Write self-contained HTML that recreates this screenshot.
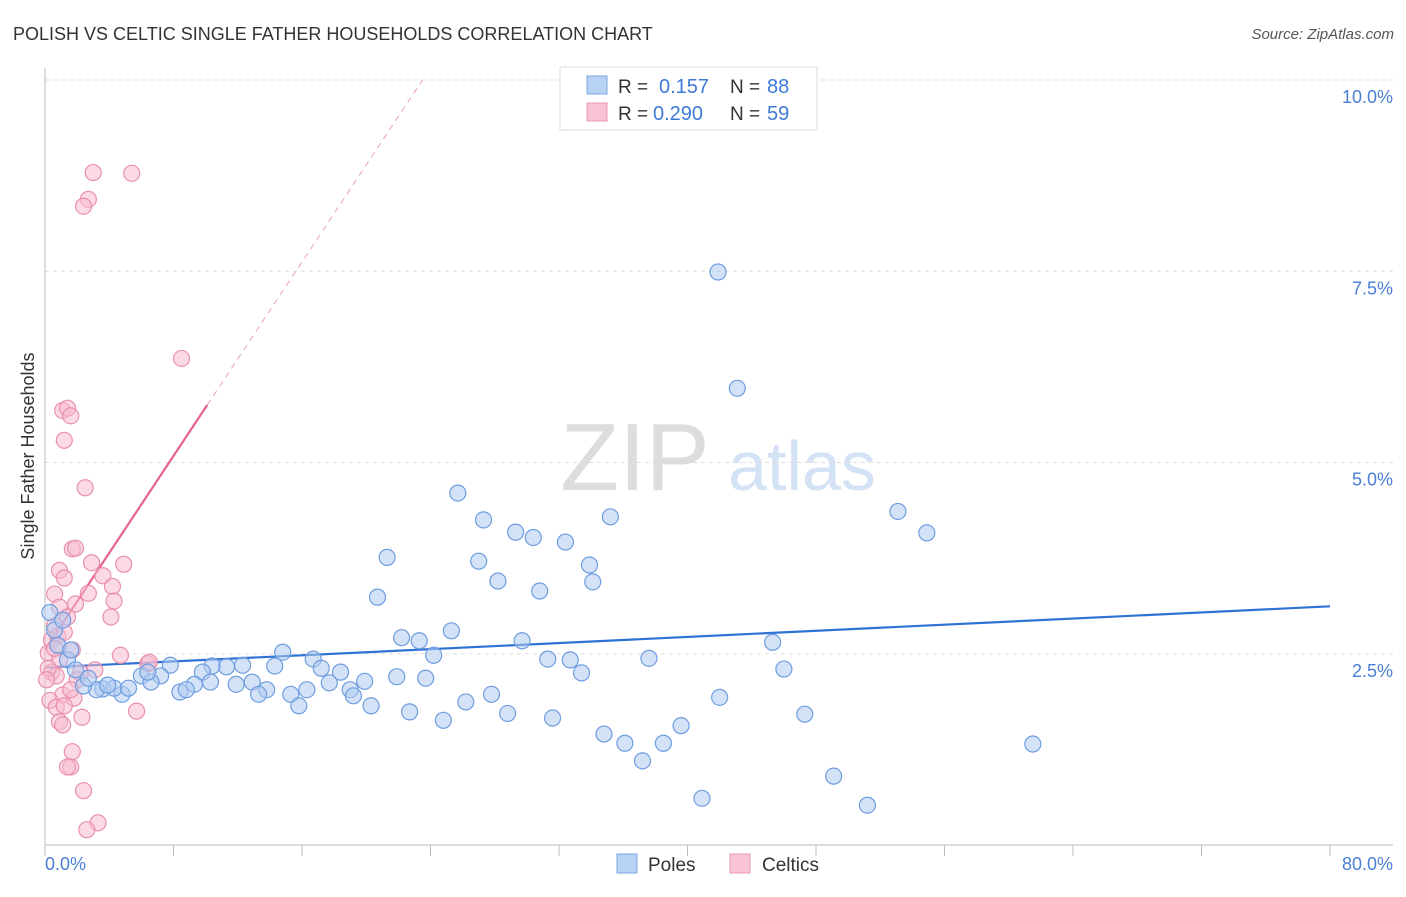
<!DOCTYPE html>
<html><head><meta charset="utf-8"><style>
body{margin:0;background:#fff;font-family:"Liberation Sans",sans-serif;}
svg text{font-family:"Liberation Sans",sans-serif;}
</style></head><body>
<svg id="chart" width="1406" height="892" xmlns="http://www.w3.org/2000/svg">
<text x="13" y="40" font-size="18" fill="#333">POLISH VS CELTIC SINGLE FATHER HOUSEHOLDS CORRELATION CHART</text>
<text x="1394" y="39" font-size="15" fill="#555" text-anchor="end" font-style="italic">Source: ZipAtlas.com</text>
<g>
<text x="635" y="490" font-size="96" fill="#ddd" text-anchor="middle" font-family="Liberation Serif,serif">ZIP</text>
<text x="802" y="490" font-size="70" fill="#d3e2f5" text-anchor="middle">atlas</text>
</g>
<g id="grid"></g>
<g id="axes"></g>
<g id="trends"></g>
<g id="points"></g>
<g>
<rect x="560" y="67" width="257" height="63" fill="#fff" stroke="#ddd"/>
<rect x="587" y="76" width="20" height="18" fill="#b8d2f3" stroke="#7aa6e3"/>
<rect x="587" y="103" width="20" height="18" fill="#f8c4d4" stroke="#ec97b2"/>
<text x="618" y="93" font-size="19" fill="#333">R = </text><text x="659" y="93" font-size="20" fill="#3e7ad6">0.157</text>
<text x="730" y="93" font-size="19" fill="#333">N = </text><text x="767" y="93" font-size="20" fill="#3e7ad6">88</text>
<text x="618" y="120" font-size="19" fill="#333">R = </text><text x="653" y="120" font-size="20" fill="#3e7ad6">0.290</text>
<text x="730" y="120" font-size="19" fill="#333">N = </text><text x="767" y="120" font-size="20" fill="#3e7ad6">59</text>
</g>
<g>
<rect x="617" y="854" width="20" height="19" fill="#b8d2f3" stroke="#7aa6e3"/>
<text x="648" y="871" font-size="19" fill="#333">Poles</text>
<rect x="730" y="854" width="20" height="19" fill="#f8c4d4" stroke="#ec97b2"/>
<text x="762" y="871" font-size="19" fill="#333">Celtics</text>
</g>
</svg>
<script>
const yTicks=[2.5,5,7.5,10];
const yTickLabels=["2.5%","5.0%","7.5%","10.0%"];
const xTicks=[0,8,16,24,32,40,48,56,64,72,80];
const polesX=[41.9,43.1,25.7,27.3,35.2,29.3,30.4,32.4,21.3,27.0,33.9,28.2,34.1,30.8,20.7,53.1,54.9,22.2,23.3,25.3,29.7,45.3,24.2,31.3,32.7,37.6,33.4,46.0,14.8,16.7,17.2,18.4,21.9,23.7,19.9,17.7,19.0,14.3,12.3,11.3,10.4,9.8,7.8,7.2,6.0,6.6,9.3,10.3,11.9,12.9,13.8,13.3,15.3,16.3,19.2,20.3,15.8,22.7,24.8,26.2,27.8,28.8,31.6,42.0,47.3,39.6,34.8,36.1,38.5,37.2,49.1,51.2,40.9,61.5,8.4,8.8,4.8,3.6,3.2,2.4,4.3,5.2,2.7,1.4,0.8,0.6,0.3,1.1,1.6,1.9,3.9,6.4];
const polesY=[7.49,5.97,4.60,4.25,4.29,4.09,4.02,3.96,3.76,3.71,3.66,3.45,3.44,3.32,3.24,4.36,4.08,2.71,2.67,2.80,2.67,2.65,2.48,2.43,2.42,2.44,2.25,2.30,2.52,2.43,2.31,2.26,2.20,2.18,2.14,2.12,2.03,2.34,2.35,2.33,2.34,2.26,2.35,2.21,2.21,2.13,2.10,2.13,2.10,2.13,2.03,1.97,1.97,2.03,1.95,1.82,1.82,1.74,1.63,1.87,1.97,1.72,1.66,1.93,1.71,1.56,1.45,1.33,1.33,1.10,0.90,0.52,0.61,1.32,2.00,2.03,1.97,2.04,2.03,2.08,2.05,2.05,2.18,2.42,2.61,2.81,3.04,2.94,2.55,2.29,2.09,2.26];
const celtX=[3.0,5.4,2.7,2.4,8.5,1.1,1.4,1.6,1.2,2.5,1.7,1.9,2.9,4.9,0.9,1.2,3.6,4.2,2.7,0.6,1.9,0.9,4.3,1.4,4.1,0.6,0.4,0.8,1.2,1.7,0.2,0.9,4.7,6.4,3.1,0.4,0.7,0.2,2.2,2.0,1.1,1.8,0.3,0.7,1.2,5.7,2.3,0.9,1.1,1.7,1.6,1.4,2.4,3.3,2.6,6.5,0.6,1.6,0.1];
const celtY=[8.79,8.78,8.44,8.35,6.36,5.68,5.71,5.61,5.29,4.67,3.87,3.88,3.69,3.67,3.59,3.49,3.52,3.38,3.29,3.28,3.15,3.11,3.19,2.98,2.98,2.87,2.68,2.73,2.78,2.55,2.51,2.42,2.48,2.37,2.29,2.26,2.21,2.31,2.25,2.16,1.96,1.92,1.89,1.80,1.82,1.75,1.67,1.61,1.57,1.22,1.02,1.02,0.71,0.29,0.20,2.39,2.57,2.03,2.16];
const polesTrend=[2.32,3.12];
const celtTrend=[2.55,0.317];
const NS="http://www.w3.org/2000/svg";
const X0=45,X1=1330,Y0=845,Y10=80;
const sx=v=>X0+(v/80)*(X1-X0);
const sy=v=>Y0-(v/10)*(Y0-Y10);
function mk(t,a,p){const e=document.createElementNS(NS,t);for(const k in a)e.setAttribute(k,a[k]);p.appendChild(e);return e;}
const grid=document.getElementById('grid');
yTicks.forEach((v,i)=>{
 const l=mk('line',{x1:X0,x2:1393,y1:sy(v),y2:sy(v),stroke:'#ddd','stroke-dasharray':'4,4'},grid);
 
 
 const t=mk('text',{x:1393,y:sy(v)+23,'font-size':18,fill:'#4a7fd4','text-anchor':'end'},grid);
 t.textContent=yTickLabels[i];
 
 
});
const ax=document.getElementById('axes');
mk('line',{x1:X0,x2:X0,y1:68,y2:Y0,stroke:'#bbb'},ax);
mk('line',{x1:X0,x2:1393,y1:Y0,y2:Y0,stroke:'#bbb'},ax);
xTicks.forEach(v=>{const l=mk('line',{x1:sx(v),x2:sx(v),y1:Y0,y2:Y0+11,stroke:'#bbb'},ax);
 
 });
let t=mk('text',{x:45,y:870,'font-size':18,fill:'#4a7fd4'},ax);t.textContent='0.0%';

t=mk('text',{x:1393,y:870,'font-size':18,fill:'#4a7fd4','text-anchor':'end'},ax);t.textContent='80.0%';

t=mk('text',{x:34,y:456,'font-size':18,fill:'#333','text-anchor':'middle',transform:'rotate(-90 34 456)'},ax);t.textContent='Single Father Households';

const pts=document.getElementById('points');
function dots(xs,ys,fill,stroke,name){xs.forEach((x,i)=>{const c=mk('circle',{cx:sx(x),cy:sy(ys[i]),r:8,fill:fill,'fill-opacity':0.55,stroke:stroke,'stroke-width':1.2},pts);
 
 });}
dots(celtX,celtY,'#f7bcd0','#e990ad','celtics-point');
dots(polesX,polesY,'#aecbf1','#6e9de0','poles-point');
const tr=document.getElementById('trends');
let l=mk('line',{x1:sx(0),y1:sy(polesTrend[0]),x2:sx(80),y2:sy(polesTrend[1]),stroke:'#2f72d6','stroke-width':2.2},tr);

const cx1=10.1,cx2=(10-celtTrend[0])/celtTrend[1];
l=mk('line',{x1:sx(0),y1:sy(celtTrend[0]),x2:sx(cx1),y2:sy(celtTrend[0]+celtTrend[1]*cx1),stroke:'#e5628f','stroke-width':2.2},tr);

l=mk('line',{x1:sx(cx1),y1:sy(celtTrend[0]+celtTrend[1]*cx1),x2:sx(cx2),y2:sy(10),stroke:'#e9a0b8','stroke-width':1,'stroke-dasharray':'6,5'},tr);

</script>
</body></html>
